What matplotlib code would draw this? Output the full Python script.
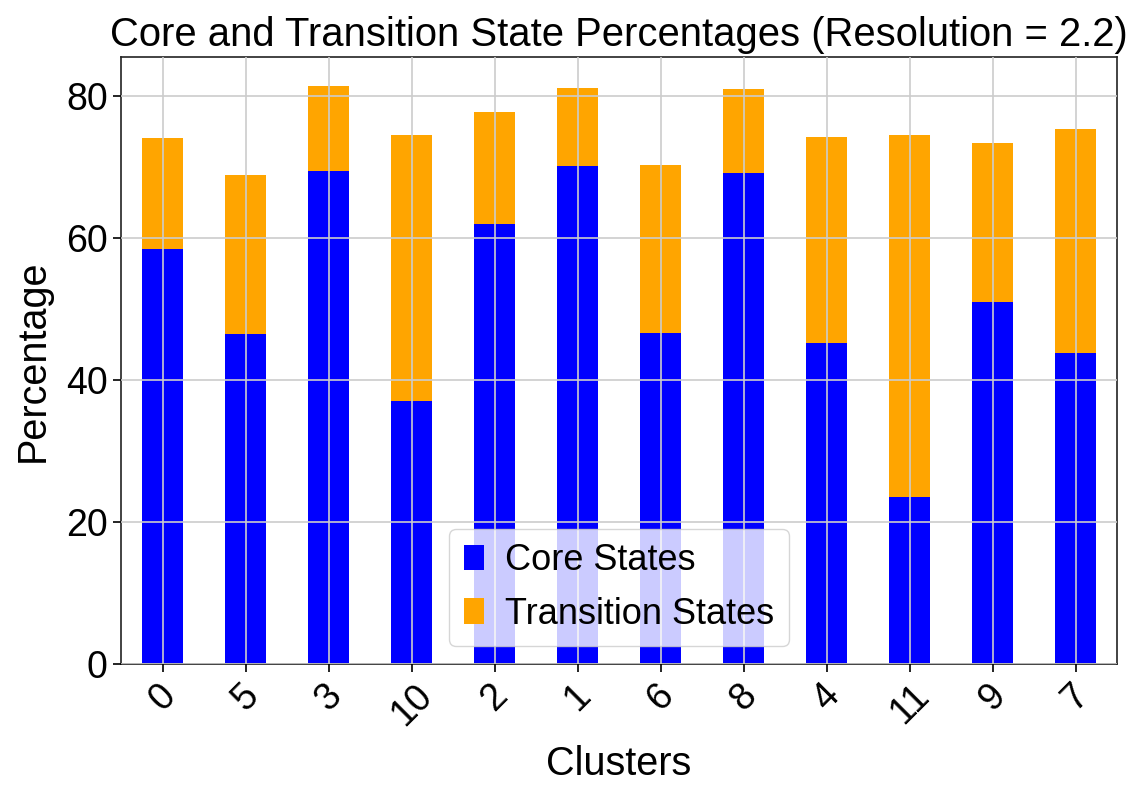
import numpy as np
import matplotlib
matplotlib.use("Agg")
import matplotlib.pyplot as plt

clusters = ["0", "5", "3", "10", "2", "1", "6", "8", "4", "11", "9", "7"]
core_pct = [58.5, 46.4, 69.4, 37.1, 61.9, 70.1, 46.6, 69.2, 45.2, 23.5, 51.0, 43.8]
total_pct = [74.0, 68.8, 81.4, 74.5, 77.7, 81.1, 70.2, 80.9, 74.2, 74.5, 73.3, 75.4]
transition_pct = [t - c for t, c in zip(total_pct, core_pct)]

plt.rcParams["font.family"] = ["Liberation Sans", "DejaVu Sans"]
plt.rcParams["font.size"] = 27

fig = plt.figure(figsize=(11.45, 7.98), dpi=100)
ax = fig.add_axes([121 / 1145, 1 - 664 / 798, 996 / 1145, 607 / 798])

x = np.arange(len(clusters))
ax.bar(x, core_pct, width=0.5, color="blue", label="Core States", zorder=2)
ax.bar(x, transition_pct, width=0.5, bottom=core_pct, color="orange",
       label="Transition States", zorder=2)

ax.set_xlim(-0.5, len(clusters) - 0.5)
ax.set_ylim(0, max(total_pct) * 1.05)
ax.set_yticks([0, 20, 40, 60, 80])
ax.set_xticks(x)
ax.set_xticklabels(clusters, rotation=45)
ax.tick_params(labelsize=27, length=6, width=1.2)
ax.grid(True, color="#cccccc", linewidth=1.2, zorder=3)
ax.set_axisbelow(False)
for s in ax.spines.values():
    s.set_linewidth(1.2)
    s.set_color("#222222")

ax.set_xlabel("Clusters", fontsize=28.5, labelpad=9)
ax.set_ylabel("Percentage", fontsize=28.5, labelpad=10)
ax.set_title("Core and Transition State Percentages (Resolution = 2.2)",
             fontsize=28.8, pad=8)
ax.legend(loc="lower center", fontsize=26, framealpha=0.8,
          handlelength=0.55, handletextpad=0.6)

fig.savefig("out.png", dpi=100)
